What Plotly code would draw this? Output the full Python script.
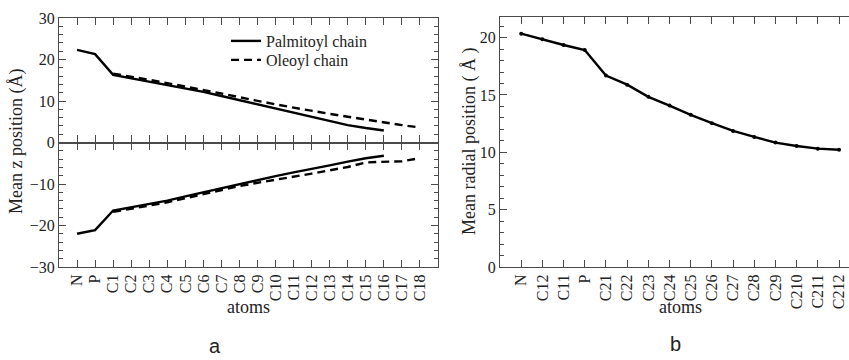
import plotly.graph_objects as go

# ---------------- data ----------------
atoms_a = ["N", "P", "C1", "C2", "C3", "C4", "C5", "C6", "C7", "C8", "C9",
           "C10", "C11", "C12", "C13", "C14", "C15", "C16", "C17", "C18"]
palm_atoms = atoms_a[:18]
oleo_atoms = atoms_a[2:]

palm_top = [22.3, 21.3, 16.3, 15.5, 14.7, 13.9, 13.1, 12.2, 11.2, 10.2, 9.2,
            8.1, 7.1, 6.1, 5.1, 4.2, 3.5, 2.9]
oleo_top = [16.6, 15.9, 15.1, 14.3, 13.5, 12.6, 11.8, 10.9, 10.0,
            9.2, 8.4, 7.6, 6.9, 6.2, 5.5, 4.8, 4.2, 3.6]
palm_bot = [-22.0, -21.1, -16.4, -15.6, -14.9, -14.0, -13.0, -12.0, -11.0, -10.0, -9.0,
            -8.1, -7.2, -6.4, -5.5, -4.6, -3.8, -3.2]
oleo_bot = [-16.7, -16.0, -15.2, -14.4, -13.4, -12.4, -11.4, -10.5, -9.7,
            -9.0, -8.3, -7.5, -6.7, -5.9, -4.8, -4.7, -4.5, -3.8]

atoms_b = ["N", "C12", "C11", "P", "C21", "C22", "C23", "C24", "C25", "C26",
           "C27", "C28", "C29", "C210", "C211", "C212"]
radial = [20.35, 19.85, 19.36, 18.92, 16.7, 15.9, 14.84, 14.08, 13.27, 12.54,
          11.87, 11.34, 10.85, 10.55, 10.32, 10.23]

# ---------------- figure ----------------
W, H = 849, 360
def px(x):
    return x / W
def py(y):
    return 1 - y / H

SERIF = "Liberation Serif"
AX = "#4a4a4a"
TXT = "#222222"
LW = 2.4
DASH = "8px,5px"

fig = go.Figure()

fig.add_trace(go.Scatter(x=palm_atoms, y=palm_top, mode="lines", name="Palmitoyl chain",
                         legend="legend",
                         line=dict(color="black", width=LW), xaxis="x", yaxis="y"))
fig.add_trace(go.Scatter(x=oleo_atoms, y=oleo_top, mode="lines", name="Oleoyl chain",
                         legend="legend2",
                         line=dict(color="black", width=LW, dash=DASH), xaxis="x", yaxis="y"))
fig.add_trace(go.Scatter(x=palm_atoms, y=palm_bot, mode="lines", showlegend=False,
                         line=dict(color="black", width=LW), xaxis="x2", yaxis="y2"))
fig.add_trace(go.Scatter(x=oleo_atoms, y=oleo_bot, mode="lines", showlegend=False,
                         line=dict(color="black", width=LW, dash=DASH), xaxis="x2", yaxis="y2"))

fig.add_trace(go.Scatter(x=atoms_b, y=radial, mode="lines+markers", showlegend=False,
                         line=dict(color="black", width=LW),
                         marker=dict(color="black", size=4, symbol="circle"),
                         xaxis="x3", yaxis="y3"))

xa_dom = [px(59), px(438)]
xb_dom = [px(500), 1.0]
y_top_dom = [py(142.5), py(18)]
y_bot_dom = [py(267), py(142.5)]
yb_dom = [py(267), py(17)]

common_ax = dict(showline=True, linecolor=AX, linewidth=1.2, ticks="inside",
                 tickcolor=AX, tickwidth=1.2, ticklen=7, showgrid=False, zeroline=False,
                 automargin=False,
                 tickfont=dict(family=SERIF, size=16, color=TXT))

leg_common = dict(xanchor="left", yanchor="top", bgcolor="rgba(0,0,0,0)",
                  font=dict(family=SERIF, size=16, color=TXT), itemwidth=30)

fig.update_layout(
    width=W, height=H, margin=dict(l=0, r=0, t=0, b=0, pad=0, autoexpand=False),
    paper_bgcolor="white", plot_bgcolor="white",
    font=dict(family=SERIF, color=TXT),
    showlegend=True,
    legend=dict(leg_common, x=px(226), y=py(24)),
    legend2=dict(leg_common, x=px(226), y=py(43)),
    xaxis=dict(common_ax, domain=xa_dom, anchor="y", type="category",
               categoryorder="array", categoryarray=atoms_a, range=[-1, 20], dtick=1,
               mirror="ticks", showticklabels=False),
    yaxis=dict(common_ax, domain=y_top_dom, anchor="x", range=[0, 30],
               tickvals=[0, 10, 20, 30], mirror="ticks",
               minor=dict(dtick=2, ticks="inside", ticklen=4, tickcolor=AX, tickwidth=1)),
    xaxis2=dict(common_ax, domain=xa_dom, anchor="y2", type="category",
                categoryorder="array", categoryarray=atoms_a, range=[-1, 20], dtick=1,
                mirror="ticks", tickangle=-90, matches="x"),
    yaxis2=dict(common_ax, domain=y_bot_dom, anchor="x2", range=[-30, 0],
                tickvals=[-30, -20, -10], mirror="ticks",
                minor=dict(dtick=2, ticks="inside", ticklen=4, tickcolor=AX, tickwidth=1)),
    xaxis3=dict(common_ax, domain=xb_dom, anchor="y3", type="category",
                categoryorder="array", categoryarray=atoms_b, range=[-1, 15.47], dtick=1,
                mirror="ticks", tickangle=-90),
    yaxis3=dict(common_ax, domain=yb_dom, anchor="x3", range=[0, 21.8],
                tickvals=[0, 5, 10, 15, 20], mirror=False,
                minor=dict(dtick=1, ticks="inside", ticklen=4, tickcolor=AX, tickwidth=1)),
)

def ann(text, x, y, font, angle=0):
    fig.add_annotation(text=text, x=px(x), y=py(y), xref="paper", yref="paper",
                       xanchor="center", yanchor="middle", textangle=angle,
                       showarrow=False, font=font)

ann_font = dict(family=SERIF, size=18, color=TXT)
ann("Mean z position (Å)", 17, 142, ann_font, -90)
ann("Mean radial position ( Å )", 470, 142, ann_font, -90)
ann("atoms", 248, 307, ann_font)
ann("atoms", 680, 307, ann_font)
lab_font = dict(family="Liberation Sans", size=20, color=TXT)
ann("a", 215, 346, lab_font)
ann("b", 675, 344, lab_font)

fig.write_html("out.html")
